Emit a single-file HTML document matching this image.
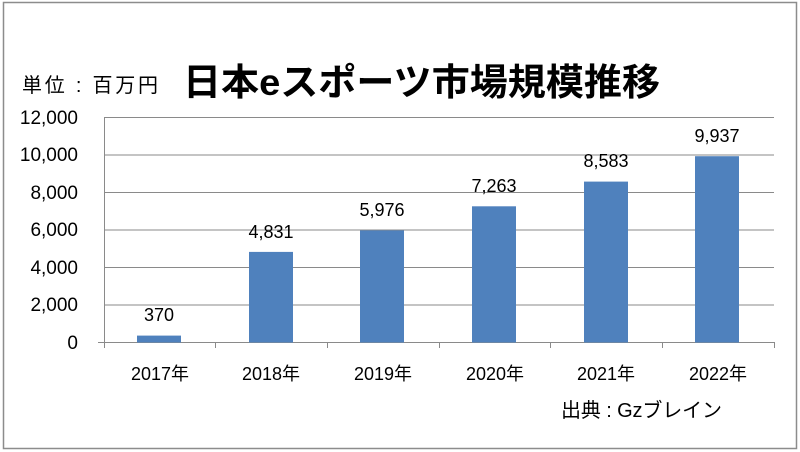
<!DOCTYPE html>
<html><head><meta charset="utf-8"><style>
html,body{margin:0;padding:0;background:#fff}
svg{display:block}
text{font-family:"Liberation Sans","Noto Sans CJK JP",sans-serif;fill:#000}
</style></head><body>
<svg width="800" height="452" xmlns="http://www.w3.org/2000/svg">
<rect x="3.5" y="2.5" width="793" height="446" fill="#fff" stroke="#8c8c8c" stroke-width="1.5"/>
<text x="22" y="92" font-size="20" textLength="136" lengthAdjust="spacing">単位 : 百万円</text>
<text x="183" y="95" font-size="37" font-weight="bold" textLength="477" lengthAdjust="spacingAndGlyphs">日本eスポーツ市場規模推移</text>
<g stroke="#8a8a8a" stroke-width="1">
<line x1="104" y1="117.5" x2="774" y2="117.5"/>
<line x1="104" y1="155" x2="774" y2="155"/>
<line x1="104" y1="192.5" x2="774" y2="192.5"/>
<line x1="104" y1="230" x2="774" y2="230"/>
<line x1="104" y1="267.5" x2="774" y2="267.5"/>
<line x1="104" y1="305" x2="774" y2="305"/>
<line x1="98" y1="342.5" x2="774" y2="342.5"/>
<line x1="104.5" y1="117" x2="104.5" y2="348"/>
<line x1="215.5" y1="342" x2="215.5" y2="348"/>
<line x1="327.5" y1="342" x2="327.5" y2="348"/>
<line x1="439.5" y1="342" x2="439.5" y2="348"/>
<line x1="550.5" y1="342" x2="550.5" y2="348"/>
<line x1="662.5" y1="342" x2="662.5" y2="348"/>
<line x1="774.5" y1="342" x2="774.5" y2="348"/>
</g>
<g font-size="19" text-anchor="end">
<text x="78" y="124">12,000</text>
<text x="78" y="161">10,000</text>
<text x="78" y="199">8,000</text>
<text x="78" y="236">6,000</text>
<text x="78" y="274">4,000</text>
<text x="78" y="311">2,000</text>
<text x="78" y="349">0</text>
</g>
<g fill="#4f81bd">
<rect x="137" y="335.6" width="44" height="6.9"/>
<rect x="249" y="251.9" width="44" height="90.6"/>
<rect x="360" y="230.4" width="44" height="112.1"/>
<rect x="472" y="206.3" width="44" height="136.2"/>
<rect x="584" y="181.6" width="44" height="160.9"/>
<rect x="695" y="156.2" width="44" height="186.3"/>
</g>
<g font-size="18" text-anchor="middle">
<text x="159" y="321">370</text>
<text x="271" y="238">4,831</text>
<text x="382" y="216">5,976</text>
<text x="494" y="192">7,263</text>
<text x="606" y="167">8,583</text>
<text x="717" y="142">9,937</text>
</g>
<g font-size="18" text-anchor="middle">
<text x="160" y="380">2017年</text>
<text x="271" y="380">2018年</text>
<text x="383" y="380">2019年</text>
<text x="495" y="380">2020年</text>
<text x="606" y="380">2021年</text>
<text x="718" y="380">2022年</text>
</g>
<text x="561" y="417" font-size="20" textLength="161" lengthAdjust="spacing">出典 : Gzブレイン</text>
</svg>
</body></html>
